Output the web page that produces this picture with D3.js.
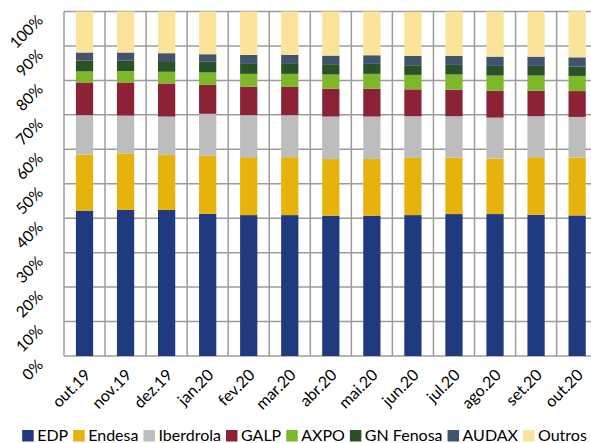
<!DOCTYPE html>
<html>
<head>
<meta charset="utf-8">
<script src="https://cdn.jsdelivr.net/npm/d3@7"></script>
<style>
  html, body { margin: 0; padding: 0; background: #fff; }
  svg { display: block; font-family: Lato, 'Open Sans', sans-serif; }
  .grid line { stroke: #9c9c9c; stroke-width: 1.5; }
  .y-label { font-size: 15.5px; fill: #000; }
  .x-label { font-size: 16px; fill: #000; }
  .legend text { font-size: 16px; fill: #000; }
</style>
</head>
<body>
<div id="chart"></div>
<script>
const months = ['out.19', 'nov.19', 'dez.19', 'jan.20', 'fev.20', 'mar.20', 'abr.20', 'mai.20', 'jun.20', 'jul.20', 'ago.20', 'set.20', 'out.20']
const companies = ['EDP', 'Endesa', 'Iberdrola', 'GALP', 'AXPO', 'GN Fenosa', 'AUDAX', 'Outros']
const colors = ['#203a80', '#e8b20c', '#bdbdbd', '#8b2236', '#7db82a', '#2b5128', '#43536d', '#fbe39a']

// market share (%) per company, one value per month
const edp = [42.2, 42.4, 42.4, 41.3, 40.9, 40.9, 40.7, 40.7, 40.9, 41.2, 41.2, 41.0, 40.8]
const endesa = [16.3, 16.4, 16.0, 16.9, 16.8, 16.8, 16.5, 16.5, 16.6, 16.4, 16.1, 16.7, 16.8]
const iberdrola = [11.4, 11.0, 11.1, 12.1, 12.2, 12.2, 12.3, 12.3, 12.1, 12.0, 11.9, 11.9, 11.8]
const galp = [9.5, 9.6, 9.6, 8.4, 8.3, 8.2, 8.1, 8.1, 7.8, 7.7, 7.8, 7.4, 7.5]
const axpo = [3.2, 3.3, 3.4, 3.6, 3.7, 3.8, 4.1, 4.3, 4.2, 4.4, 4.4, 4.4, 4.4]
const gnFenosa = [3.2, 3.0, 3.1, 3.1, 3.1, 3.1, 3.0, 2.9, 2.8, 2.8, 2.8, 2.8, 2.7]
const audax = [2.3, 2.4, 2.3, 2.2, 2.4, 2.4, 2.5, 2.5, 2.7, 2.6, 2.7, 2.7, 2.7]
const outros = [11.9, 11.9, 12.1, 12.4, 12.6, 12.6, 12.8, 12.7, 12.8, 12.9, 13.1, 13.1, 13.4]

const yTicks = [0, 10, 20, 30, 40, 50, 60, 70, 80, 90, 100]

const seriesValues = [edp, endesa, iberdrola, galp, axpo, gnFenosa, audax, outros]

const width = 591
const height = 443
const margin = { top: 11.5, left: 64, bottom: 87 }
const step = 41.05
const innerW = step * months.length
const innerH = height - margin.top - margin.bottom

const rows = months.map((m, i) => {
  const row = { month: m }
  companies.forEach((c, j) => { row[c] = seriesValues[j][i] })
  return row
})

const stacked = d3.stack().keys(companies)(rows)

const x = d3.scaleBand()
  .domain(months)
  .range([0, innerW])
  .paddingInner(0.58)
  .paddingOuter(0.29)

const y = d3.scaleLinear().domain([0, 100]).range([innerH, 0])

const color = d3.scaleOrdinal().domain(companies).range(colors)

const svg = d3.select('#chart').append('svg').attr('width', width).attr('height', height)
const g = svg.append('g').attr('transform', `translate(${margin.left},${margin.top})`)

// gridlines
const grid = g.append('g').attr('class', 'grid')
grid.selectAll('line.h')
  .data(yTicks)
  .join('line')
  .attr('class', 'h')
  .attr('x1', 0)
  .attr('x2', innerW)
  .attr('y1', (d) => y(d))
  .attr('y2', (d) => y(d))

grid.selectAll('line.v')
  .data(d3.range(months.length + 1))
  .join('line')
  .attr('class', 'v')
  .attr('x1', (i) => i * x.step())
  .attr('x2', (i) => i * x.step())
  .attr('y1', 0)
  .attr('y2', innerH)

// bars
g.append('g')
  .selectAll('g')
  .data(stacked)
  .join('g')
  .attr('fill', (d) => color(d.key))
  .selectAll('rect')
  .data((d) => d)
  .join('rect')
  .attr('x', (d) => x(d.data.month))
  .attr('width', x.bandwidth())
  .attr('y', (d) => y(d[1]))
  .attr('height', (d) => y(d[0]) - y(d[1]))

// y labels, rotated
g.append('g')
  .selectAll('text')
  .data(yTicks)
  .join('text')
  .attr('class', 'y-label')
  .attr('text-anchor', 'end')
  .attr('transform', (d) => `translate(-20,${y(d) + 10}) rotate(-45)`)
  .text((d) => `${d}%`)

// x labels, rotated
g.append('g')
  .selectAll('text')
  .data(months)
  .join('text')
  .attr('class', 'x-label')
  .attr('text-anchor', 'end')
  .attr('transform', (d) => `translate(${x(d) + x.bandwidth() / 2 + 7},${innerH + 20}) rotate(-45)`)
  .text((d) => d)

// legend
const legend = svg.append('g').attr('class', 'legend')
const items = legend.selectAll('g').data(companies).join('g')
items.append('rect').attr('width', 11.5).attr('height', 11.5).attr('y', -11).attr('fill', (d) => color(d))
items.append('text').attr('x', 15).text((d) => d)

let cursor = 0
items.each(function () {
  const w = d3.select(this).select('text').node().getComputedTextLength()
  d3.select(this).attr('transform', `translate(${cursor},0)`)
  cursor += 15 + w + 5
})
const total = cursor - 5
legend.attr('transform', `translate(${(32 + 577) / 2 - total / 2},${441})`)
</script>
</body>
</html>
